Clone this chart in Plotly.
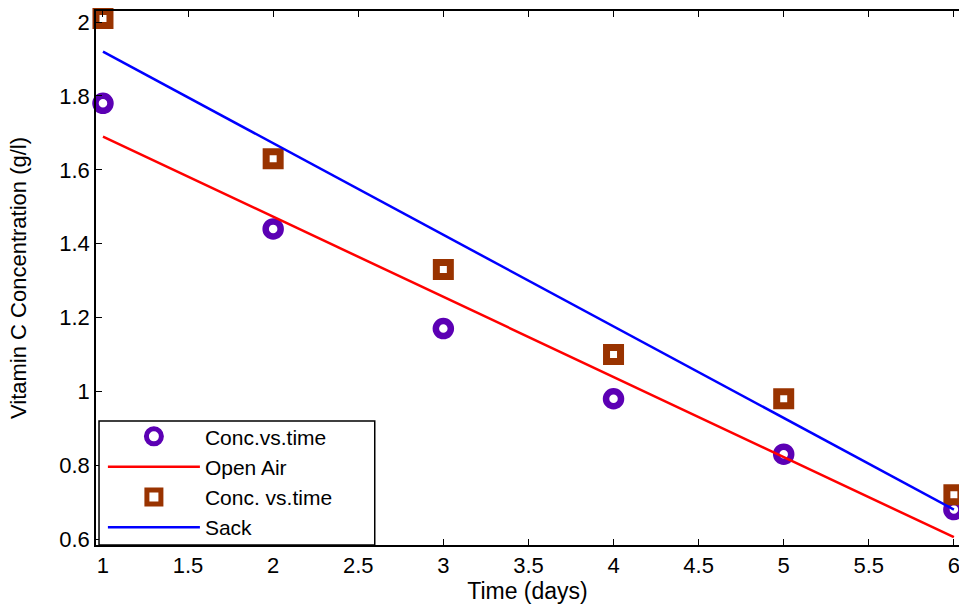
import plotly.graph_objects as go

# ---- data ----
time_days = [1, 2, 3, 4, 5, 6]
open_air_conc = [1.78, 1.44, 1.17, 0.98, 0.83, 0.68]
sack_conc = [2.01, 1.63, 1.33, 1.10, 0.98, 0.72]

fit_x = [1, 6]
open_air_fit = [1.69, 0.605]
sack_fit = [1.92, 0.68]

x_ticks = [1, 1.5, 2, 2.5, 3, 3.5, 4, 4.5, 5, 5.5, 6]
x_tick_text = ["1", "1.5", "2", "2.5", "3", "3.5", "4", "4.5", "5", "5.5", "6"]
y_ticks = [0.6, 0.8, 1.0, 1.2, 1.4, 1.6, 1.8, 2.0]
y_tick_text = ["0.6", "0.8", "1", "1.2", "1.4", "1.6", "1.8", "2"]

PURPLE = "#5c00b4"
BROWN = "#993300"
FONT = "Liberation Sans, Arial, sans-serif"

fig = go.Figure()
fig.add_trace(go.Scatter(
    x=time_days, y=open_air_conc, mode="markers", name="Conc.vs.time",
    marker=dict(symbol="circle-open", size=15, color=PURPLE, line=dict(width=6.5, color=PURPLE)),
    cliponaxis=False,
))
fig.add_trace(go.Scatter(
    x=fit_x, y=open_air_fit, mode="lines", name="Open Air",
    line=dict(color="#ff0000", width=2.5),
))
fig.add_trace(go.Scatter(
    x=time_days, y=sack_conc, mode="markers", name="Conc. vs.time",
    marker=dict(symbol="square-open", size=14, color=BROWN, line=dict(width=7, color=BROWN)),
    cliponaxis=False,
))
fig.add_trace(go.Scatter(
    x=fit_x, y=sack_fit, mode="lines", name="Sack",
    line=dict(color="#0000ff", width=2.5),
))
# invisible trace on top axis to carry the top border / ticks
fig.add_trace(go.Scatter(x=fit_x, y=sack_fit, xaxis="x2", mode="none", showlegend=False, hoverinfo="skip"))

# legend frame (drawn as a shape so its size matches the reference box)
fig.add_shape(type="rect", xref="paper", yref="paper",
              x0=0.0035, x1=0.323, y0=0.0, y1=0.232,
              fillcolor="white", line=dict(color="black", width=1.5), layer="above")

fig.update_layout(
    width=959, height=607,
    margin=dict(l=96, r=0, t=11, b=62),
    paper_bgcolor="white", plot_bgcolor="white",
    font=dict(family=FONT, size=22, color="black"),
    showlegend=True,
    xaxis=dict(
        range=[0.959, 6.03], tickvals=x_ticks, ticktext=x_tick_text,
        ticks="inside", ticklen=6, tickcolor="black", showgrid=False, zeroline=False,
        showline=True, linecolor="black", linewidth=1.5, automargin=False,
        ticklabeloverflow="allow",
        title=dict(text="Time (days)", font=dict(size=23), standoff=6),
        tickfont=dict(size=22),
    ),
    xaxis2=dict(
        overlaying="x", side="top", matches="x", tickvals=x_ticks,
        showticklabels=False, ticks="inside", ticklen=6, tickcolor="black",
        showline=True, linecolor="black", linewidth=1.5, showgrid=False, zeroline=False,
        automargin=False,
    ),
    yaxis=dict(
        range=[0.584, 2.03], tickvals=y_ticks, ticktext=y_tick_text,
        ticks="inside", ticklen=6, tickcolor="black", showgrid=False, zeroline=False,
        showline=True, linecolor="black", linewidth=1.5, automargin=False,
        title=dict(text="Vitamin C Concentration (g/l)", font=dict(size=22), standoff=27),
        tickfont=dict(size=22),
    ),
    legend=dict(
        x=0.008, y=-0.006, xanchor="left", yanchor="bottom",
        bgcolor="rgba(0,0,0,0)", borderwidth=0,
        font=dict(size=21), itemwidth=92, tracegroupgap=0,
    ),
)

fig.write_html("out.html", config={"displayModeBar": False},
               post_script="document.body.style.margin='0px';")
